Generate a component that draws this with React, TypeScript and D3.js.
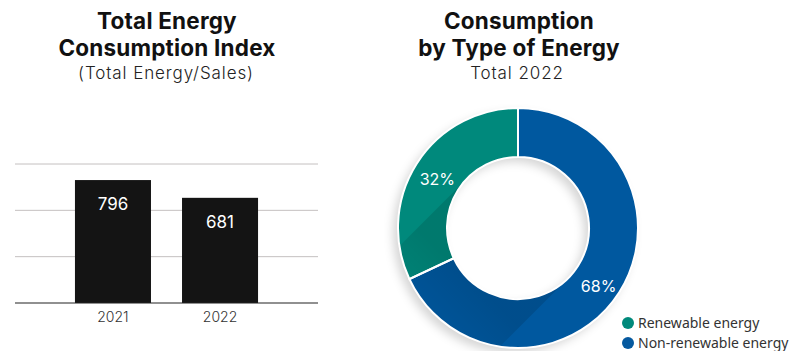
import React from "react";
import * as d3 from "d3";

const years = ["2021", "2022"];
const indexValues = [796, 681];
const gridTicks = [0, 300, 600, 900];

const energyTypes = ["Renewable energy", "Non-renewable energy"];
const energyShares = [32, 68];
const energyColors = ["#00897B", "#05599F"];

const W = 795;
const H = 351;

export default function App() {
  const x = d3.scaleBand<string>().domain(years).range([15, 318]).paddingInner(0.29).paddingOuter(0.56);
  const y = d3.scaleLinear().domain([0, 900]).range([303, 164]);

  const cx = 518;
  const cy = 228;
  const R = 120;
  const r = 71;
  const twoPi = Math.PI * 2;
  const pie = d3
    .pie<number>()
    .sort(null)
    .value((d) => d)
    .startAngle(-twoPi * (energyShares[0] / 100))
    .endAngle(twoPi - twoPi * (energyShares[0] / 100));
  const arcs = pie(energyShares);
  const arc = d3.arc<d3.PieArcDatum<number>>().innerRadius(r).outerRadius(R);
  const ringPath = d3.arc()({ innerRadius: r, outerRadius: R, startAngle: 0, endAngle: twoPi } as any) as string;

  // long shadow of the hole toward lower-left
  const s = r / Math.SQRT2;
  const L = 200;
  const shadowPts: [number, number][] = [
    [s, s],
    [s - L, s + L],
    [-s - L, -s + L],
    [-s, -s],
  ];
  const shadowPath = d3.line()(shadowPts) + "Z";

  const titleFont = "Inter, Lato, 'DejaVu Sans', sans-serif";
  const legendFont = "'Noto Sans', Roboto, sans-serif";

  return (
    <svg width={W} height={H} style={{ position: "absolute", left: 0, top: 0, background: "#fff" }}>
      <defs>
        <filter id="dshadow" x="-30%" y="-30%" width="160%" height="160%">
          <feDropShadow dx={-5} dy={5} stdDeviation={5} floodColor="#000" floodOpacity={0.16} />
        </filter>
        <linearGradient id="holeShade" gradientUnits="userSpaceOnUse" x1={0} y1={0} x2={-110} y2={110}>
          <stop offset="0.45" stopColor="#000" stopOpacity={0.12} />
          <stop offset="1" stopColor="#000" stopOpacity={0} />
        </linearGradient>
        <clipPath id="ringClip">
          <path d={ringPath} />
        </clipPath>
      </defs>

      {/* Left titles */}
      <g fontFamily={titleFont} textAnchor="middle" fill="#111">
        <text x={167} y={29} fontSize={22.5} fontWeight={700} letterSpacing={0.2}>Total Energy</text>
        <text x={167} y={56} fontSize={22.5} fontWeight={700} letterSpacing={0.2}>Consumption Index</text>
        <text x={166} y={79} fontSize={17} fontWeight={300} letterSpacing={0.9} fill="#222">(Total Energy/Sales)</text>
      </g>

      {/* Bar chart */}
      <g>
        {gridTicks.slice(1).map((t) => (
          <line key={t} x1={15} x2={318} y1={y(t)} y2={y(t)} stroke="#c4c0c0" strokeWidth={1} />
        ))}
        {years.map((yr, i) => (
          <rect
            key={yr}
            x={x(yr)!}
            y={y(indexValues[i])}
            width={x.bandwidth()}
            height={y(0) - y(indexValues[i])}
            fill="#141414"
          />
        ))}
        <line x1={15} x2={318} y1={y(0)} y2={y(0)} stroke="#222" strokeWidth={1.2} />
        {years.map((yr, i) => (
          <text
            key={"v" + yr}
            x={x(yr)! + x.bandwidth() / 2}
            y={y(indexValues[i]) + 30}
            textAnchor="middle"
            fontFamily={titleFont}
            fontSize={17}
            fill="#fff"
          >
            {indexValues[i]}
          </text>
        ))}
        {years.map((yr) => (
          <text
            key={"l" + yr}
            x={x(yr)! + x.bandwidth() / 2}
            y={322}
            textAnchor="middle"
            fontFamily={titleFont}
            fontSize={14}
            fontWeight={300}
            fill="#333"
          >
            {yr}
          </text>
        ))}
      </g>

      {/* Right titles */}
      <g fontFamily={titleFont} textAnchor="middle" fill="#111">
        <text x={519} y={29} fontSize={22.5} fontWeight={700} letterSpacing={0.2}>Consumption</text>
        <text x={519} y={56} fontSize={22.5} fontWeight={700} letterSpacing={0.2}>by Type of Energy</text>
        <text x={517} y={79} fontSize={17} fontWeight={300} letterSpacing={0.9} fill="#222">Total 2022</text>
      </g>

      {/* Donut */}
      <g transform={`translate(${cx},${cy})`}>
        <g filter="url(#dshadow)">
          {arcs.map((a, i) => (
            <path key={i} d={arc(a)!} fill={energyColors[i]} />
          ))}
        </g>
        <path d={shadowPath} fill="url(#holeShade)" clipPath="url(#ringClip)" />
        {arcs.map((a, i) => (
          <path key={"s" + i} d={arc(a)!} fill="none" stroke="#fff" strokeWidth={2} />
        ))}
        {arcs.map((a, i) => {
          const [lx, ly] = arc.centroid(a);
          return (
            <text
              key={"t" + i}
              x={lx}
              y={ly + (i === 0 ? 2 : 7)}
              textAnchor="middle"
              dominantBaseline="central"
              fontFamily={titleFont}
              fontSize={16}
              fill="#fff"
            >
              {energyShares[i]}%
            </text>
          );
        })}
      </g>

      {/* Legend */}
      <g fontFamily={legendFont} fontSize={14} fill="#333">
        {energyTypes.map((t, i) => (
          <g key={t} transform={`translate(628,${323 + i * 20})`}>
            <circle r={6} fill={energyColors[i]} />
            <text x={10} dy="0.35em">{t}</text>
          </g>
        ))}
      </g>
    </svg>
  );
}
